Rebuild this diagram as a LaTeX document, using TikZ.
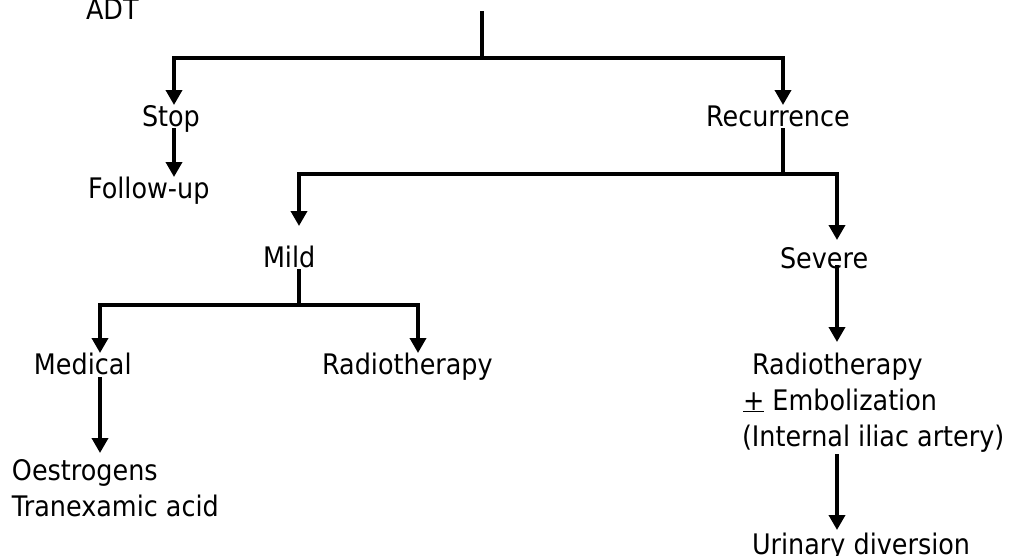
\documentclass[tikz,border=0pt]{standalone}
\usepackage{fontspec}
\setmainfont{DejaVu Sans}[FakeStretch=0.9]
\usetikzlibrary{arrows.meta}
\begin{document}
\begin{tikzpicture}[x=1pt,y=-1pt,
  lbl/.style={inner sep=0pt, outer sep=0pt, text height=21pt, text depth=0pt, anchor=south west, font=\fontsize{28.3}{36}\selectfont},
  ln/.style={line width=3.6pt},
  arr/.style={ln,-{Triangle[width=16pt,length=15pt]}}]
\useasboundingbox (0,0) rectangle (1021,555);
\node[lbl] (adt) at (86,19) {ADT};
\node[lbl] (stop) at (142,126) {Stop};
\node[lbl] (follow) at (88,198) {Follow-up};
\node[lbl] (rec) at (706,126) {Recurrence};
\node[lbl] (mild) at (263,267) {Mild};
\node[lbl] (severe) at (780,268) {Severe};
\node[lbl] (medical) at (34,374) {Medical};
\node[lbl] (radio) at (322,374) {Radiotherapy};
\node[lbl] (oest) at (12,480) {Oestrogens};
\node[lbl] (tran) at (12,516) {Tranexamic acid};
\node[lbl] (rt) at (752,374) {Radiotherapy};
\node[lbl] (emb) at (743,410) {\underline{+} Embolization};
\node[lbl] (iliac) at (742,446) {(Internal iliac artery)};
\node[lbl] (urin) at (752,554) {Urinary diversion};
\coordinate (top) at (482,11);
\coordinate (j1) at (482,58);
\coordinate (b1l) at (174,58);
\coordinate (b1r) at (783,58);
\coordinate (j2) at (783,174);
\coordinate (b2l) at (299,174);
\coordinate (b2r) at (837,174);
\coordinate (j3) at (299,305);
\coordinate (b3l) at (100,305);
\coordinate (b3r) at (418,305);
\draw[ln] (top) -- (j1);
\draw[arr] (j1) -- (b1l) -- (b1l |- stop.north);
\draw[arr] (j1) -- (b1r) -- (b1r |- rec.north);
\draw[arr] ([yshift=-2pt]stop.south -| b1l) -- (b1l |- follow.north);
\draw[ln] ([yshift=-2pt]rec.south -| j2) -- (j2);
\draw[arr, shorten >=20pt] (j2) -- (b2l) -- (b2l |- mild.north);
\draw[arr, shorten >=7pt] (j2) -- (b2r) -- (b2r |- severe.north);
\draw[ln] ([yshift=-2pt]mild.south -| j3) -- (j3);
\draw[arr] (j3) -- (b3l) -- (b3l |- medical.north);
\draw[arr] (j3) -- (b3r) -- (b3r |- radio.north);
\draw[arr, shorten >=6pt] ([yshift=-3pt]medical.south -| b3l) -- (b3l |- oest.north);
\draw[arr, shorten >=11pt] ([yshift=3pt]severe.south -| b2r) -- (b2r |- rt.north);
\draw[arr, shorten >=3pt] ([yshift=-8pt]iliac.south -| b2r) -- (b2r |- urin.north);
\end{tikzpicture}
\end{document}
